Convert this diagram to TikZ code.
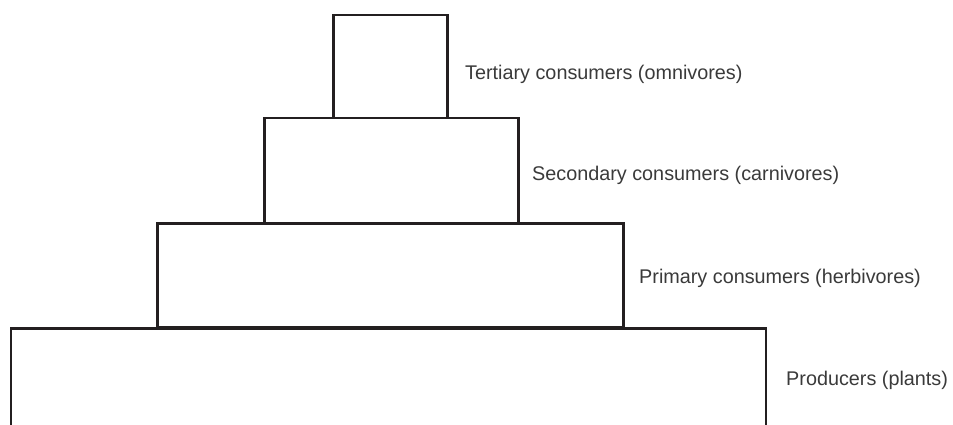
\documentclass[tikz,border=0pt]{standalone}
\usepackage{fontspec}
\setmainfont{Liberation Sans}
\definecolor{linecol}{HTML}{231F20}
\definecolor{txtcol}{HTML}{3A3A3A}
\begin{document}
\begin{tikzpicture}[x=1pt,y=-1pt,
  tier/.style={draw=linecol,line width=2.5pt,rectangle,inner sep=0pt,anchor=north west},
  lbl/.style={anchor=base west,inner sep=0pt,text=txtcol,font=\fontsize{19.8}{22}\selectfont}]
\useasboundingbox (0,0) rectangle (953,425);
% tiers
\node[tier,minimum width=114pt,minimum height=103pt] (t3) at (332,14) {};
\node[tier,minimum width=254pt,minimum height=105pt] (t2) at (263,117) {};
\node[tier,minimum width=466pt,minimum height=104pt] (t1) at (156,222) {};
\coordinate (bl) at (11,430);
\coordinate (br) at (766,430);
\draw[linecol,line width=2.5pt] (bl) |- (t1.south west -| br) coordinate (tr) -- (br);
% labels
\node[lbl] (l3) at (465,80) {Tertiary consumers (omnivores)};
\node[lbl] (l2) at (532,180) {Secondary consumers (carnivores)};
\node[lbl] (l1) at (639,283) {Primary consumers (herbivores)};
\node[lbl] (l0) at (786,385) {Producers (plants)};
\end{tikzpicture}
\end{document}
